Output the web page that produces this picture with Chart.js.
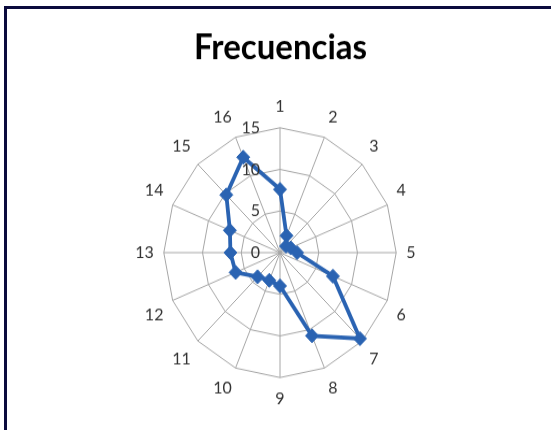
<!DOCTYPE html>
<html>
<head>
<meta charset="utf-8">
<script src="https://cdn.jsdelivr.net/npm/chart.js@4"></script>
<style>
  html, body { margin: 0; padding: 0; background: #fff; overflow: hidden; }
  #wrap { position: relative; width: 551px; height: 430px; }
  #chart { position: absolute; left: 0; top: 0; }
  .frame { position: absolute; left: 4px; top: 6px; width: 620px; height: 520px;
           border: 3px solid #0b0b3d; pointer-events: none; }
</style>
</head>
<body>
<div id="wrap">
  <!-- the reference picture is stretched a bit vertically, so the canvas is too -->
  <canvas id="chart" width="551" height="400" style="width:551px;height:430px"></canvas>
  <div class="frame"></div>
</div>
<script>
// categories (directions 1..16) and frequency per direction
const labels = ['1', '2', '3', '4', '5', '6', '7', '8', '9', '10', '11', '12', '13', '14', '15', '16'];
const frecuencias = [7.6, 2.2, 1.1, 1.5, 2.2, 7.4, 14.6, 10.8, 4.0, 3.6, 4.1, 6.2, 6.4, 7.0, 9.8, 12.4];
const tickValues = [0, 5, 10, 15];

const FONT = "Lato, 'Open Sans', sans-serif";
const TEXT = '#333333';
const GRID = '#a6a6a6';
const BLUE = '#2a63b2';

// Excel puts the radial tick labels to the left of the vertical axis
const tickLabelPlugin = {
  id: 'leftTicks',
  afterDraw(chart) {
    const r = chart.scales.r;
    const ctx = chart.ctx;
    ctx.save();
    ctx.font = '16px ' + FONT;
    ctx.fillStyle = TEXT;
    ctx.textAlign = 'right';
    ctx.textBaseline = 'middle';
    tickValues.forEach(function (v) {
      const d = r.getDistanceFromCenterForValue(v);
      ctx.fillText(String(v), r.xCenter - 20, r.yCenter - d);
    });
    ctx.restore();
  }
};

new Chart(document.getElementById('chart').getContext('2d'), {
  type: 'radar',
  data: {
    labels: labels,
    datasets: [{
      label: 'Frecuencias',
      data: frecuencias,
      borderColor: BLUE,
      backgroundColor: 'rgba(0,0,0,0)',
      borderWidth: 3.8,
      fill: false,
      pointStyle: 'rectRot',
      pointRadius: 6.5,
      pointBackgroundColor: BLUE,
      pointBorderColor: BLUE,
      pointBorderWidth: 1
    }]
  },
  options: {
    responsive: false,
    animation: false,
    devicePixelRatio: 1,
    layout: { padding: { left: 10, right: 0, top: 0, bottom: 18 } },
    plugins: {
      legend: { display: false },
      tooltip: { enabled: false },
      title: {
        display: true,
        text: 'Frecuencias',
        color: '#000',
        font: { family: FONT, size: 33, weight: 'bold' },
        padding: { top: 25, bottom: 25 }
      }
    },
    scales: {
      r: {
        min: 0,
        max: 15,
        ticks: { stepSize: 5, display: false },
        grid: { color: GRID, lineWidth: 1 },
        angleLines: { color: GRID, lineWidth: 1 },
        pointLabels: {
          font: { family: FONT, size: 16 },
          color: TEXT,
          padding: 10
        }
      }
    }
  },
  plugins: [tickLabelPlugin]
});
</script>
</body>
</html>
